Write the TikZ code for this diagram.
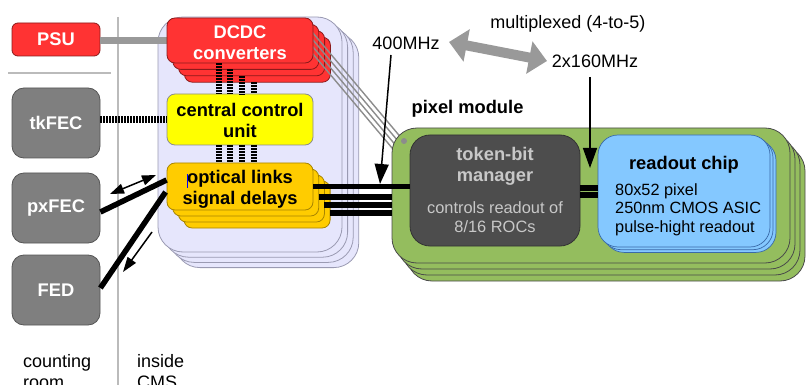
\documentclass[tikz,border=0pt]{standalone}
\usepackage{fontspec}
\setmainfont{Liberation Sans}
\usetikzlibrary{arrows.meta,calc}
\definecolor{psured}{HTML}{FF3333}
\definecolor{redborder}{HTML}{8B1A1A}
\definecolor{fecgray}{HTML}{7F7F7F}
\definecolor{fecborder}{HTML}{555555}
\definecolor{lav}{HTML}{E6E6FC}
\definecolor{lavborder}{HTML}{9A9AB2}
\definecolor{ccuyellow}{HTML}{FFFF00}
\definecolor{optorange}{HTML}{FFCC00}
\definecolor{optborder}{HTML}{A88500}
\definecolor{modgreen}{HTML}{94BD5E}
\definecolor{modborder}{HTML}{4A4A4A}
\definecolor{tbmgray}{HTML}{4D4D4D}
\definecolor{tbmtext}{HTML}{C8C8C8}
\definecolor{rocblue}{HTML}{84C8FF}
\definecolor{rocborder}{HTML}{3A6AA8}
\definecolor{linegray}{HTML}{999999}
\definecolor{thingray}{HTML}{8C8C8C}
\definecolor{sepgray}{HTML}{BBBBBB}
\newcommand\boldlabel{\bfseries\fontsize{18.3}{21}\selectfont}
\newcommand\reglabel{\fontsize{18}{21}\selectfont}
\newcommand\desclabel{\fontsize{16.4}{19}\selectfont}
\newcommand\roclabel{\fontsize{16.3}{18.6}\selectfont}
\newcommand\lowerby[1]{\rule{0pt}{#1}}
\begin{document}
\begin{tikzpicture}[x=1pt,y=-1pt,
  fecbox/.style={draw=fecborder, fill=fecgray, line width=0.8pt, rounded corners=12pt,
    minimum width=88pt, minimum height=70pt, text=white, font=\boldlabel, inner sep=0pt},
  redbox/.style={draw=redborder, fill=psured, line width=0.8pt, rounded corners=8pt,
    text=white, font=\boldlabel, align=center, inner sep=0pt},
  redcopy/.style={draw=redborder, fill=psured, line width=0.8pt, rounded corners=8pt},
  unitbox/.style={draw=black!45, line width=0.8pt, rounded corners=8pt, font=\boldlabel,
    align=center, minimum width=146pt, inner sep=0pt},
  optcopy/.style={draw=optborder, fill=optorange, line width=0.8pt, rounded corners=8pt},
  lavbox/.style={draw=lavborder, fill=lav, line width=0.8pt, rounded corners=25pt},
  modbox/.style={draw=modborder, fill=modgreen, line width=0.8pt, rounded corners=25pt},
  rocbox/.style={draw=rocborder, fill=rocblue, line width=0.7pt, rounded corners=20pt},
  stripes/.style={line width=6.5pt, dash pattern=on 2pt off 1pt},
  bus/.style={line width=5.5pt},
  feedline/.style={line width=5.5pt},
  thinarrow/.style={line width=1.5pt, -{Triangle[length=15pt,width=10pt]}},
  thindouble/.style={line width=1.5pt, {Triangle[length=14pt,width=10pt]}-{Triangle[length=14pt,width=10pt]}},
  clockarrow/.style={line width=1.5pt, -{Triangle[length=20pt,width=14pt]}},
  muxarrow/.style={line width=10pt, draw=linegray, {Triangle[length=18pt,width=32pt]}-{Triangle[length=18pt,width=32pt]}},
  plain/.style={inner sep=0pt}
]
\useasboundingbox (0,0) rectangle (806,385);
\clip (0,0) rectangle (806,385);

% separators
\draw[sepgray, line width=1.5pt] (118,17) -- (118,385);
\draw[sepgray, line width=1.5pt] (8,73) -- (111,73);

% counting room boxes
\node[redbox, minimum width=88pt, minimum height=33pt, rounded corners=6pt] (psu) at (56,39.5) {PSU};
\node[fecbox] (tkfec) at (56,123) {tkFEC};
\node[fecbox] (pxfec) at (56,208) {pxFEC};
\node[fecbox] (fed) at (56,290) {FED};

% inside CMS: front-end board stack
\foreach \k in {3,2,1}{
  \draw[lavbox] ($(158,17)+\k*(5.6,5.2)$) rectangle ($(342,252)+\k*(5.6,5.2)$);
}
\node[lavbox, minimum width=184pt, minimum height=235pt, inner sep=0pt] (board) at (250,134.5) {};

% PSU -> DCDC power line
\coordinate (dcdcwest) at (167,41);
\draw[linegray, line width=7pt] (psu.east |- dcdcwest) -- (dcdcwest);

% DCDC stack
\foreach \k in {3,2,1}{
  \draw[redcopy] ($(167,18)+\k*(5.8,6.4)$) rectangle ($(313,63)+\k*(5.8,6.4)$);
}
% thin gray supply lines to the pixel module
\foreach \k in {0,1,2,3}{
  \coordinate (gs\k) at ($(303.3,21.5)+\k*(0,7)$);
  \draw[thingray, line width=1.4pt] (gs\k) -- ++(103,122.4);
}
\node[redbox, minimum width=146pt, minimum height=45pt] (dcdc) at (240,40.5) {\lowerby{17pt}DCDC\\converters};

% striped connections DCDC -> CCU
\node[unitbox, fill=ccuyellow, minimum height=51pt] (ccu) at (240,119.5) {\lowerby{15pt}central control\\unit};
\foreach \xx/\k in {219/0,230/1,242/2,254/3}{
  \draw[stripes] (\xx,{63+6.4*\k}) -- (\xx,94);
  \draw[stripes] (\xx,145) -- (\xx,163);
}

% optical links stack
\foreach \k in {3,2,1}{
  \draw[optcopy] ($(167,163)+\k*(5.7,6)$) rectangle ($(313,210)+\k*(5.7,6)$);
}
\node[unitbox, fill=optorange, draw=optborder, minimum height=47pt] (opt) at (240,186.5) {\lowerby{18.5pt}optical links\\signal delays};
\draw[blue, line width=0.8pt] (187,174) -- (187,188);

% tkFEC -> CCU
\draw[line width=7pt, dash pattern=on 2pt off 1pt] (tkfec.east |- ccu.west) -- (ccu.west);

% pixel module stack
\foreach \k in {3,2,1}{
  \draw[modbox] ($(392,128)+\k*(5,6)$) rectangle ($(790,263)+\k*(5,6)$);
}
\node[modbox, minimum width=398pt, minimum height=135pt, inner sep=0pt] (module) at (591,195.5) {};
\fill[thingray] (404,141) circle (3pt);

\node[draw=black!80, fill=tbmgray, line width=0.8pt, rounded corners=20pt,
  minimum width=170pt, minimum height=111pt, inner sep=0pt] (tbm) at (495,190.5) {};
\node[plain, font=\boldlabel, text=tbmtext, align=center] (tbmtitle) at (495,166.2) {token-bit\\manager};
\node[plain, font=\desclabel, text=tbmtext, align=center] (tbmdesc) at (495,217.2) {controls readout of\\8/16 ROCs};

\foreach \k in {2,1}{
  \draw[rocbox] ($(598,135)+\k*(3,2.7)$) rectangle ($(770,247)+\k*(3,2.7)$);
}
\node[rocbox, minimum width=172pt, minimum height=112pt, inner sep=0pt] (roc) at (684,191) {};
\node[plain, font=\boldlabel, anchor=base] (roctitle) at (684,169) {readout chip};
\node[plain, font=\roclabel, align=left, anchor=north west] (rocdesc) at (615,183.1) {80x52 pixel\\250nm CMOS ASIC\\pulse-hight readout};

% data lines optical -> module
\draw[bus] (opt.east) -- (opt.east -| tbm.west);
\foreach \k/\yy in {1/197,2/205,3/213}{
  \draw[bus] ({313+5.7*\k},\yy) -- (392,\yy);
}
% TBM -> ROC
\draw[bus] ($(tbm.east)+(0,-2.5)$) -- ($(tbm.east)+(18,-2.5)$);
\draw[bus] ($(tbm.east)+(0,4.5)$) -- ($(tbm.east)+(18,4.5)$);

% links to counting room
\draw[feedline] ([yshift=6.5pt]opt.west) -- ([yshift=-4pt]pxfec.east);
\draw[feedline] ([yshift=-5.5pt,xshift=-1pt]opt.west) -- ([yshift=2pt]fed.east);
\draw[thindouble] (110,194) -- (156,175);
\draw[thinarrow] (152,232) -- (123,272);

% clocks
\node[plain, font=\reglabel, anchor=base] (f400) at (406,50) {400MHz};
\node[plain, font=\reglabel, anchor=base] (mux) at (568,29) {multiplexed (4-to-5)};
\node[plain, font=\reglabel, anchor=base] (f160) at (595,68) {2x160MHz};
\draw[muxarrow] (449,42) -- (547,61);
\draw[clockarrow] (391,55) -- (380,184);
\draw[clockarrow] (590,77) -- (590,168);

\node[plain, font=\boldlabel, anchor=base] (pixlabel) at (467.5,114) {pixel module};

% location labels
\node[plain, font=\reglabel, align=left, anchor=north west] (croom) at (23,354.5) {counting\\room};
\node[plain, font=\reglabel, align=left, anchor=north west] (cms) at (137,354.5) {inside\\CMS};
\end{tikzpicture}
\end{document}
